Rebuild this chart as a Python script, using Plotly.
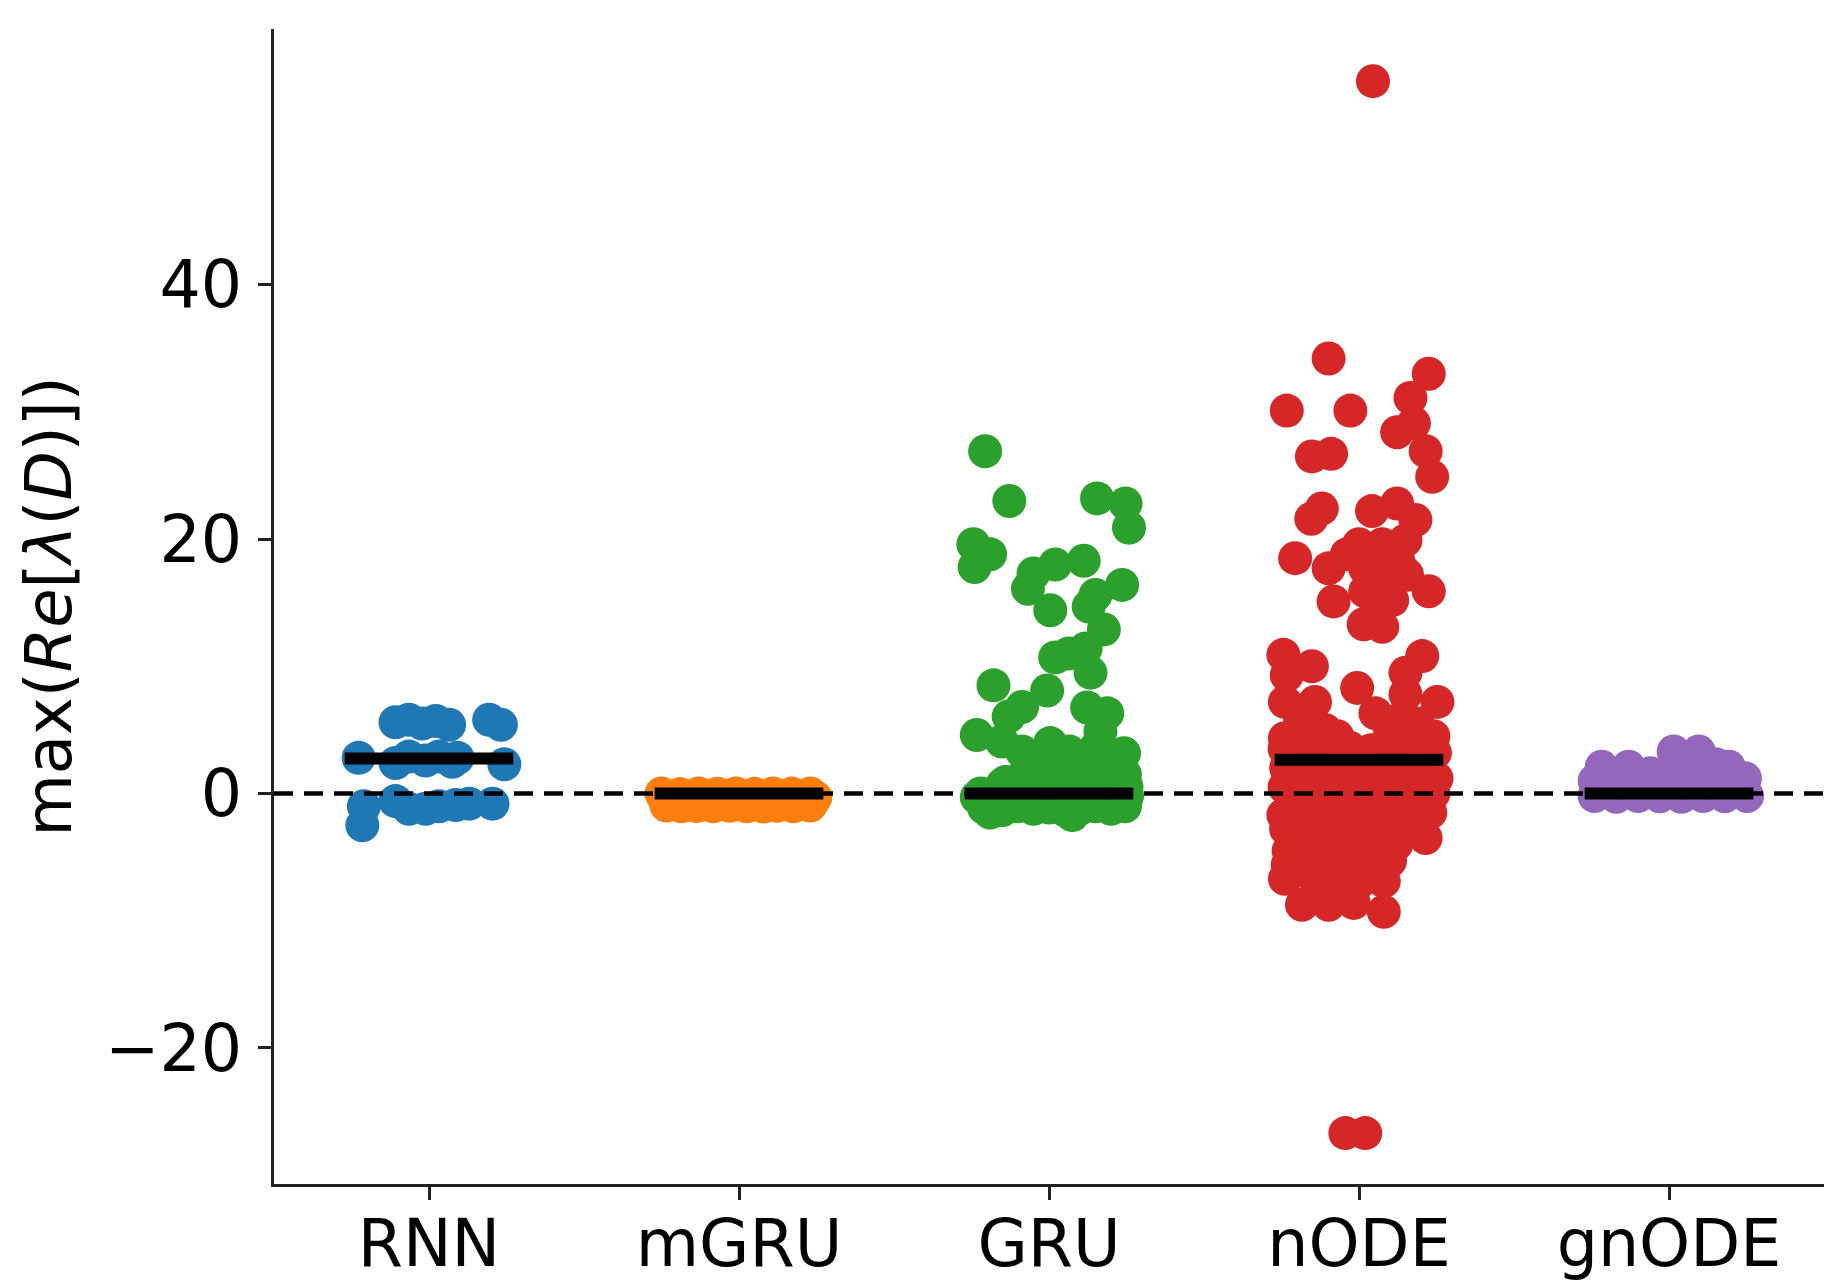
import plotly.graph_objects as go

# ---------------- data ----------------
categories = ["RNN", "mGRU", "GRU", "nODE", "gnODE"]
colors = ["#1f77b4", "#ff7f0e", "#2ca02c", "#d62728", "#9467bd"]

# per-model strip values (max real eigenvalue) and horizontal jitter (category units)
rnn_jitter = [-0.108, -0.065, -0.022, 0.022, 0.065, 0.194, 0.232,
              -0.227, -0.108, -0.065, -0.011, 0.032, 0.075, 0.092, 0.243,
              -0.21, -0.108, -0.065, -0.011, 0.032, 0.086, 0.13, 0.205, -0.215]
rnn_values = [5.6, 5.8, 5.5, 5.7, 5.4, 5.8, 5.4,
              2.8, 2.4, 2.9, 2.6, 2.9, 2.5, 2.8, 2.3,
              -1.0, -0.6, -1.2, -1.2, -1.0, -0.9, -0.8, -0.8, -2.5]

mgru_jitter = [-0.25, -0.19, -0.13, -0.07, -0.01, 0.05, 0.11, 0.17, 0.23, 0.246,
               -0.24, -0.16, -0.08, 0.0, 0.08, 0.16, 0.24,
               -0.234, -0.185, -0.137, -0.083, -0.029, 0.025, 0.079, 0.122, 0.176, 0.23]
mgru_values = [0.0, -0.05, 0.0, -0.02, 0.0, -0.03, 0.0, -0.01, 0.0, -0.3,
               -0.5, -0.45, -0.5, -0.55, -0.5, -0.48, -0.55,
               -0.95, -1.0, -0.98, -1.0, -0.97, -1.0, -1.02, -0.96, -1.0, -0.95]

gru_jitter = [-0.206, -0.128, 0.155, 0.247, 0.258, -0.244, -0.19, -0.24, -0.05, 0.02,
              0.112, -0.068, 0.236, 0.004, 0.15, 0.128, 0.177, 0.118, 0.02, 0.064,
              0.134, -0.179, -0.006, -0.087, -0.13, 0.123, 0.188, 0.166, -0.233, 0.004,
              0.242, -0.152, -0.087, 0.065, 0.15,
              -0.21, -0.15, -0.10, -0.05, 0.0, 0.05, 0.10, 0.15, 0.20, 0.245, 0.075, -0.19,
              -0.233, -0.17, -0.1, -0.03, 0.04, 0.11, 0.18, 0.252,
              -0.22, -0.15, -0.08, -0.01, 0.06, 0.13, 0.2, 0.25,
              -0.14, -0.08, -0.01, 0.06, 0.13, 0.2, 0.245]
gru_values = [26.9, 23.0, 23.2, 22.8, 20.9, 19.6, 18.8, 17.8, 17.3, 18.0,
              18.3, 16.1, 16.4, 14.4, 15.6, 14.7, 12.9, 11.4, 10.7, 11.0,
              9.5, 8.5, 8.1, 6.8, 6.05, 6.76, 6.3, 4.9, 4.6, 3.96,
              3.17, 4.09, 3.3, 3.3, 3.56,
              -1.1, -1.3, -1.0, -1.2, -1.1, -1.3, -1.2, -1.0, -1.2, -1.0, -1.7, -1.5,
              -0.3, -0.2, -0.4, -0.3, -0.2, -0.4, -0.3, -0.2,
              0.0, 0.7, 0.6, 0.8, 0.6, 0.7, 0.8, 0.5,
              0.9, 1.5, 1.8, 1.9, 1.9, 1.8, 1.5]

node_jitter = [0.045, -0.044, 0.02,
               -0.098, 0.225, -0.233, -0.028, 0.166, 0.177, 0.123, 0.215, 0.236, -0.152,
               -0.09, -0.154, -0.12, 0.042, 0.123, 0.182, 0.15, -0.206, 0.0, -0.098,
               0.042, 0.128, 0.155, 0.225, -0.082, 0.02, 0.107, 0.015, 0.075, -0.039,
               0.064, -0.244, -0.152, 0.204, 0.15, -0.006, 0.253, -0.233, -0.239, 0.053,
               -0.142, 0.15, -0.239, 0.053, 0.097, 0.02, 0.075,
               -0.19, -0.11, -0.07, 0.10, 0.19, 0.24, 0.14,
               -0.24, -0.17, -0.1, -0.03, 0.04, 0.11, 0.18, 0.245,
               -0.235, -0.165, -0.095, -0.025, 0.045, 0.115, 0.185, 0.25,
               -0.24, -0.17, -0.1, -0.03, 0.04, 0.11, 0.18, 0.24,
               -0.244, -0.17, -0.1, -0.03, 0.04, 0.11, 0.18, 0.23,
               -0.235, -0.165, -0.095, -0.025, 0.045, 0.115, 0.18,
               -0.227, -0.16, -0.09, -0.02, 0.05, 0.12, 0.215,
               -0.23, -0.155, -0.085, -0.015, 0.055, 0.1,
               -0.239, -0.142, -0.07, 0.0, 0.08,
               -0.184, -0.098, -0.017, 0.08]
node_values = [56.0, -26.7, -26.7,
               34.2, 33.0, 30.1, 30.1, 31.1, 29.1, 28.4, 26.9, 24.9, 26.5,
               26.7, 21.6, 22.4, 22.2, 22.8, 21.5, 19.9, 18.5, 19.6, 17.7,
               18.0, 18.2, 17.2, 15.9, 15.1, 15.9, 15.2, 13.3, 13.1, 18.8,
               17.0, 10.9, 10.0, 10.8, 9.5, 8.3, 7.2, 9.3, 7.2, 6.3,
               7.2, 7.8, 4.35, 15.1, 16.7, 17.7, 19.6,
               5.8, 5.0, 4.5, 5.0, 5.5, 4.5, 6.0,
               3.5, 3.8, 3.3, 3.6, 3.4, 3.7, 3.5, 3.2,
               2.0, 1.8, 2.2, 1.9, 2.1, 1.8, 2.0, 1.2,
               0.5, 0.3, 0.6, 0.4, 0.5, 0.3, 0.6, 0.0,
               -1.7, -1.0, -1.2, -0.9, -1.1, -1.0, -1.2, -1.5,
               -2.8, -2.5, -2.6, -2.4, -2.7, -2.5, -2.6,
               -4.5, -4.0, -4.2, -3.9, -4.1, -4.0, -3.5,
               -5.6, -5.5, -5.7, -5.4, -5.6, -5.3,
               -6.7, -6.7, -7.2, -7.0, -6.9,
               -8.75, -8.75, -8.6, -9.3]

gnode_jitter = [-0.217, -0.13, -0.06, 0.015, 0.096, 0.15, 0.193, 0.245,
                -0.24, -0.17, -0.1, -0.03, 0.04, 0.11, 0.18,
                -0.24, -0.17, -0.1, -0.03, 0.04, 0.11, 0.18, 0.252]
gnode_values = [2.1, 2.1, 1.6, 3.3, 3.3, 2.3, 2.1, 1.2,
                1.0, 1.1, 1.0, 1.2, 1.3, 1.1, 1.0,
                -0.2, -0.25, -0.2, -0.22, -0.25, -0.2, -0.22, -0.2]

medians = [2.75, 0.0, 0.0, 2.65, 0.0]
y_ticks = [-20, 0, 20, 40]

jitters = [rnn_jitter, mgru_jitter, gru_jitter, node_jitter, gnode_jitter]
values = [rnn_values, mgru_values, gru_values, node_values, gnode_values]

# ---------------- figure ----------------
FONT = "DejaVu Sans"
fig = go.Figure()

for i, (name, jit, vals) in enumerate(zip(categories, jitters, values)):
    fig.add_trace(go.Scatter(
        x=[i + j for j in jit], y=vals, mode="markers", name=name,
        marker=dict(size=34, color=colors[i], line=dict(width=0)),
        showlegend=False, hoverinfo="y"))

# zero reference line
fig.add_trace(go.Scatter(
    x=[-0.5, len(categories) - 0.5], y=[0, 0], mode="lines",
    line=dict(color="black", width=4.5, dash="19px,11px"),
    showlegend=False, hoverinfo="skip"))

# median bars
half = 0.272
for i, m in enumerate(medians):
    fig.add_trace(go.Scatter(
        x=[i - half, i + half], y=[m, m], mode="lines",
        line=dict(color="black", width=12),
        showlegend=False, hoverinfo="skip"))

axis_common = dict(
    showline=True, linecolor="#222222", linewidth=2.7, mirror=False,
    ticks="outside", ticklen=13, tickwidth=2.5, tickcolor="#222222",
    showgrid=False, zeroline=False, automargin=False,
    tickfont=dict(family=FONT, size=65, color="black"),
)

fig.update_layout(
    width=1837, height=1285,
    margin=dict(l=266, r=21, t=21, b=109),
    paper_bgcolor="white", plot_bgcolor="white",
    font=dict(family=FONT, size=65, color="black"),
    xaxis=dict(
        range=[-0.5, len(categories) - 0.5],
        tickvals=list(range(len(categories))), ticktext=categories,
        ticklabelstandoff=-12,
        **axis_common),
    yaxis=dict(
        range=[-30.7, 60.1], tickvals=y_ticks,
        ticklabelstandoff=3,
        title=dict(text="max(<i>Re</i>[<i>λ</i>(<i>D</i>)])",
                   font=dict(family=FONT, size=64, color="black"), standoff=13),
        **axis_common),
)

fig.write_html("out.html")
